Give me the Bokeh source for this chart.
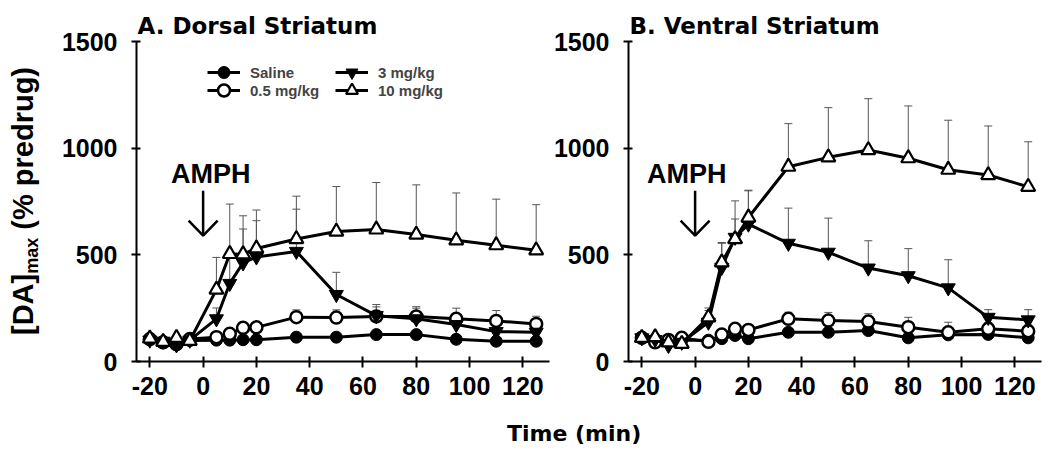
from bokeh.plotting import figure
from bokeh.models import (ColumnDataSource, Whisker, TeeHead, Legend, LegendItem,
                          Label, Div, FixedTicker, Range1d)
from bokeh.layouts import row, column
from bokeh.embed import file_html
from bokeh.resources import INLINE

# ---------------- data ----------------
TIME = [-20, -15, -10, -5, 5, 10, 15, 20, 35, 50, 65, 80, 95, 110, 125]
SERIES = ["Saline", "0.5 mg/kg", "3 mg/kg", "10 mg/kg"]
X_TICKS = [-20, 0, 20, 40, 60, 80, 100, 120]
Y_TICKS = [0, 500, 1000, 1500]

# Dorsal striatum (mean, upper SEM)
DS_SALINE = [105, 92, 78, 98, 100, 100, 102, 102, 114, 114, 126, 126, 104, 95, 95]
DS_SALINE_ERR = [8, 8, 8, 8, 8, 8, 8, 8, 10, 10, 10, 10, 10, 10, 10]
DS_05 = [105, 90, 82, 105, 114, 130, 158, 160, 208, 206, 211, 211, 200, 190, 176]
DS_05_ERR = [8, 8, 8, 8, 10, 12, 15, 15, 34, 36, 45, 46, 50, 49, 36]
DS_3 = [100, 95, 78, 100, 200, 366, 462, 490, 516, 314, 215, 200, 173, 140, 137]
DS_3_ERR = [8, 8, 8, 8, 51, 140, 159, 170, 198, 104, 52, 50, 40, 30, 25]
DS_10 = [108, 92, 111, 97, 337, 504, 503, 530, 574, 609, 619, 595, 568, 545, 521]
DS_10_ERR = [8, 8, 8, 8, 151, 234, 180, 180, 201, 211, 220, 233, 222, 216, 214]

# Ventral striatum (mean, upper SEM)
VS_SALINE = [110, 106, 100, 100, 100, 107, 122, 107, 137, 137, 145, 111, 125, 127, 111]
VS_SALINE_ERR = [8, 8, 8, 8, 8, 8, 8, 8, 10, 10, 10, 10, 10, 10, 10]
VS_05 = [111, 90, 101, 111, 92, 126, 153, 148, 200, 192, 187, 161, 137, 153, 142]
VS_05_ERR = [8, 8, 8, 8, 8, 10, 12, 12, 31, 38, 37, 46, 47, 30, 30]
VS_3 = [111, 103, 75, 90, 184, 441, 582, 644, 554, 512, 438, 402, 345, 207, 195]
VS_3_ERR = [8, 8, 8, 8, 55, 117, 86, 156, 165, 160, 128, 127, 132, 36, 48]
VS_10 = [111, 114, 90, 83, 207, 465, 574, 675, 913, 957, 991, 953, 899, 874, 819]
VS_10_ERR = [8, 8, 8, 8, 44, 89, 179, 128, 202, 233, 241, 245, 232, 230, 211]

# AMPH injection marker
AMPH_X = 0
ARROW_TOP, ARROW_TIP = 800, 590
AMPH_LABEL_X = [2.9, -3.1]
AMPH_LABEL_Y = 878

# ---------------- styling ----------------
X_START, X_END = -25, 130
Y_START, Y_END = 0, 1500
FRAME_W, FRAME_H = 413, 320
TOP, BOTTOM = 41, 60
FIG_H = TOP + FRAME_H + BOTTOM
TICK_FONT = "Liberation Sans"

MARKERS = {
    "Saline": dict(marker="circle", size=12, fill_color="black", line_width=1),
    "0.5 mg/kg": dict(marker="circle", size=12, fill_color="white", line_width=2.5),
    "3 mg/kg": dict(marker="inverted_triangle", size=14, fill_color="black", line_width=1),
    "10 mg/kg": dict(marker="triangle", size=14, fill_color="white", line_width=2.2),
}
LEGEND_POS = {"Saline": (71, 274), "0.5 mg/kg": (71, 256), "3 mg/kg": (199, 274), "10 mg/kg": (199, 256)}


def make_panel(title, means, errs, left_border, width, amph_x, legend=False):
    p = figure(width=width, height=FIG_H,
               x_range=Range1d(X_START, X_END), y_range=Range1d(Y_START, Y_END),
               output_backend="svg", toolbar_location=None,
               min_border_left=left_border, min_border_right=width - left_border - FRAME_W,
               min_border_top=TOP, min_border_bottom=BOTTOM)
    p.title.text = title
    p.title.align = "left"
    p.title.text_font = "DejaVu Sans"
    p.title.text_font_style = "bold"
    p.title.text_font_size = "23px"
    p.title.text_color = "black"
    p.title.standoff = 5
    p.title.offset = 1
    p.outline_line_color = None
    p.grid.visible = False
    p.background_fill_color = "white"
    p.border_fill_color = "white"

    for ax in (p.xaxis[0], p.yaxis[0]):
        ax.axis_line_width = 2
        ax.axis_line_color = "black"
        ax.major_tick_line_width = 2
        ax.major_tick_line_color = "black"
        ax.minor_tick_line_color = None
        ax.major_label_text_font = TICK_FONT
        ax.major_label_text_font_style = "bold"
        ax.major_label_text_font_size = "25px"
        ax.major_label_text_color = "black"
    p.xaxis.ticker = FixedTicker(ticks=X_TICKS)
    p.xaxis.major_label_overrides = {t: str(t) for t in X_TICKS}
    p.yaxis.ticker = FixedTicker(ticks=Y_TICKS)
    p.xaxis.major_tick_in = 5
    p.xaxis.major_tick_out = 6
    p.xaxis.major_label_standoff = 9
    p.yaxis.major_tick_in = 4
    p.yaxis.major_tick_out = 5
    p.yaxis.major_label_standoff = 14

    items = {}
    for name in SERIES:
        y = means[name]
        e = errs[name]
        src = ColumnDataSource(dict(x=TIME, y=y, upper=[a + b for a, b in zip(y, e)]))
        w = Whisker(source=src, base="x", lower="y", upper="upper", dimension="height",
                    line_color="#555555", line_width=1,
                    upper_head=TeeHead(size=8, line_color="#555555", line_width=1),
                    lower_head=None, level="underlay")
        p.add_layout(w)
    for name in SERIES:
        src = ColumnDataSource(dict(x=TIME, y=means[name]))
        lr = p.line("x", "y", source=src, line_color="black", line_width=3)
        m = MARKERS[name]
        sr = p.scatter("x", "y", source=src, marker=m["marker"], size=m["size"],
                       fill_color=m["fill_color"], line_color="black", line_width=m["line_width"])
        items[name] = [lr, sr]

    # AMPH arrow
    dx = (X_END - X_START) / FRAME_W * 14.5
    dy = (Y_END - Y_START) / FRAME_H * 15
    p.segment(x0=[AMPH_X], y0=[ARROW_TOP], x1=[AMPH_X], y1=[ARROW_TIP], line_color="black", line_width=2.5)
    p.multi_line(xs=[[AMPH_X - dx, AMPH_X, AMPH_X + dx]], ys=[[ARROW_TIP + dy, ARROW_TIP, ARROW_TIP + dy]],
                 line_color="black", line_width=2.5)
    p.add_layout(Label(x=amph_x, y=AMPH_LABEL_Y, text="AMPH", text_align="center",
                       text_baseline="alphabetic", text_font=TICK_FONT, text_font_style="bold",
                       text_font_size="27px", text_color="black"))

    if legend:
        for name in SERIES:
            leg = Legend(items=[LegendItem(label=name, renderers=items[name])],
                         location=LEGEND_POS[name],
                         glyph_width=33, glyph_height=30, spacing=0, label_standoff=10,
                         padding=0, margin=0, border_line_color=None, background_fill_alpha=0,
                         label_text_font=TICK_FONT, label_text_font_style="bold",
                         label_text_font_size="15px", label_height=16)
            p.add_layout(leg)
    return p


YLAB_W = 50
left = make_panel("A. Dorsal Striatum",
                  {"Saline": DS_SALINE, "0.5 mg/kg": DS_05, "3 mg/kg": DS_3, "10 mg/kg": DS_10},
                  {"Saline": DS_SALINE_ERR, "0.5 mg/kg": DS_05_ERR, "3 mg/kg": DS_3_ERR, "10 mg/kg": DS_10_ERR},
                  left_border=136 - YLAB_W, width=550 - YLAB_W, amph_x=AMPH_LABEL_X[0], legend=True)
right = make_panel("B. Ventral Striatum",
                   {"Saline": VS_SALINE, "0.5 mg/kg": VS_05, "3 mg/kg": VS_3, "10 mg/kg": VS_10},
                   {"Saline": VS_SALINE_ERR, "0.5 mg/kg": VS_05_ERR, "3 mg/kg": VS_3_ERR, "10 mg/kg": VS_10_ERR},
                   left_border=78, width=492, amph_x=AMPH_LABEL_X[1])

ylab_html = (
    f'<div style="position:relative;width:{YLAB_W}px;height:{FIG_H}px;">'
    '<div style="position:absolute;left:7px;top:335px;transform:rotate(-90deg);'
    "transform-origin:0 0;white-space:nowrap;font-family:'Liberation Sans',Arial,sans-serif;"
    'font-weight:bold;font-size:29px;line-height:33px;color:black;">'
    '[DA]<span style="font-size:18px;position:relative;top:5px;">max</span> (% predrug)'
    '</div></div>'
)
ylabel = Div(text=ylab_html, width=YLAB_W, height=FIG_H, margin=(0, 0, 0, 0))

xlabel = Div(text="Time (min)", width=220, height=30, margin=(0, 0, 0, 507),
             styles={"font-family": "DejaVu Sans", "font-weight": "bold", "font-size": "22px",
                     "line-height": "26px", "color": "black", "white-space": "nowrap"})

layout = column(row(ylabel, left, right), xlabel)
open("out.html", "w").write(file_html(layout, INLINE))
